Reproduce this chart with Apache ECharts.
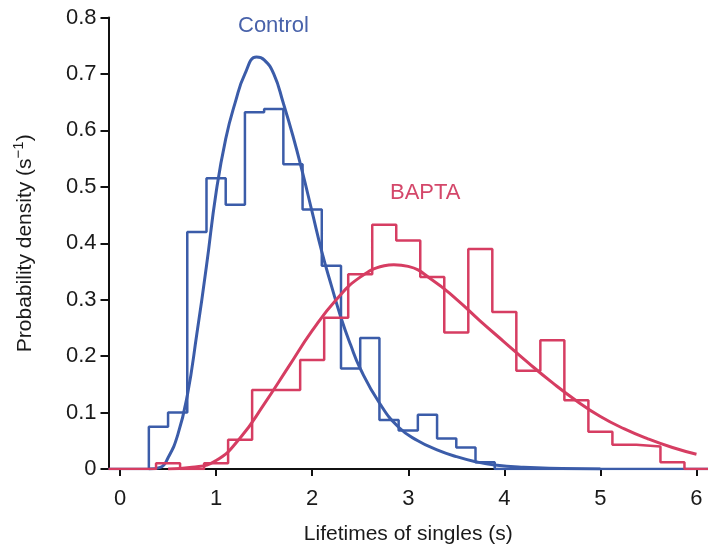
<!DOCTYPE html>
<html><head><meta charset="utf-8">
<script src="https://cdn.jsdelivr.net/npm/echarts@6/dist/echarts.min.js"></script>
<style>html,body{margin:0;padding:0;background:#fff}#c{width:708px;height:548px}</style>
</head><body><div id="c"></div>
<script>
// ---- data ----
const xTickValues = [0, 1, 2, 3, 4, 5, 6];

const controlEdges = [0.3, 0.5, 0.7, 0.9, 1.1, 1.3, 1.5, 1.7, 1.9, 2.1, 2.3, 2.5, 2.7, 2.9, 3.1, 3.3, 3.5, 3.7, 3.9];
const controlValues = [0.075, 0.10, 0.42, 0.515, 0.468, 0.632, 0.638, 0.54, 0.46, 0.36, 0.178, 0.232, 0.087, 0.068, 0.096, 0.054, 0.038, 0.012];

const baptaEdges = [0.375, 0.625, 0.875, 1.125, 1.375, 1.625, 1.875, 2.125, 2.375, 2.625, 2.875, 3.125, 3.375, 3.625, 3.875, 4.125, 4.375, 4.625, 4.875, 5.125, 5.375, 5.625, 5.875];
const baptaValues = [0.01, 0, 0.01, 0.052, 0.14, 0.14, 0.193, 0.268, 0.345, 0.433, 0.405, 0.34, 0.242, 0.39, 0.278, 0.174, 0.228, 0.122, 0.066, 0.043, 0.04, 0.012];

const controlFitX = [0.3, 0.42, 0.5, 0.6, 0.7, 0.8, 0.9, 1.0, 1.1, 1.2, 1.3, 1.42, 1.5, 1.6, 1.7, 1.8, 1.9, 2.0, 2.1, 2.2, 2.3, 2.4, 2.5, 2.7, 2.9, 3.1, 3.3, 3.5, 3.7, 3.9, 4.2, 4.6, 5.0];
const controlFitY = [0, 0.003, 0.02, 0.06, 0.13, 0.24, 0.36, 0.49, 0.585, 0.65, 0.70, 0.73, 0.725, 0.70, 0.648, 0.59, 0.525, 0.455, 0.385, 0.325, 0.268, 0.22, 0.178, 0.117, 0.074, 0.05, 0.034, 0.022, 0.013, 0.007, 0.003, 0.001, 0];

const baptaFitX = [0.5, 0.75, 1.0, 1.25, 1.5, 1.75, 2.0, 2.25, 2.5, 2.75, 2.85, 3.0, 3.25, 3.5, 3.75, 4.0, 4.25, 4.5, 4.75, 5.0, 5.25, 5.5, 5.75, 6.0];
const baptaFitY = [0, 0.003, 0.015, 0.055, 0.115, 0.18, 0.245, 0.30, 0.34, 0.36, 0.362, 0.359, 0.335, 0.301, 0.262, 0.225, 0.188, 0.153, 0.121, 0.093, 0.071, 0.053, 0.038, 0.026];

const xMin = -0.12, xMax = 6.12;
const BLUE = '#3b5ca9', RED = '#d63d62';
const FONT = '"Liberation Sans", Arial, Helvetica, sans-serif';

function stepData(edges, values) {
  const d = [[xMin, 0]];
  for (let i = 0; i < values.length; i++) d.push([edges[i], values[i]]);
  d.push([edges[edges.length - 1], 0]);
  d.push([xMax, 0]);
  return d;
}
function pairs(xs, ys) { return xs.map((x, i) => [x, ys[i]]); }

const chart = echarts.init(document.getElementById('c'), null, {renderer: 'canvas'});
chart.setOption({
  animation: false,
  backgroundColor: '#fff',
  grid: {left: 108.5, right: 0, top: 17.5, bottom: 79, containLabel: false, outerBoundsMode: 'none'},
  xAxis: {
    type: 'value', min: xMin, max: xMax,
    name: 'Lifetimes of singles (s)', nameLocation: 'middle', nameGap: 55,
    nameTextStyle: {fontFamily: FONT, fontSize: 21, color: '#1a1a1a'},
    axisLine: {show: true, onZero: false, lineStyle: {color: '#111', width: 2}},
    axisTick: {show: true, length: 7, lineStyle: {color: '#111', width: 2}, customValues: xTickValues},
    axisLabel: {fontFamily: FONT, fontSize: 22, color: '#1a1a1a', margin: 19, customValues: xTickValues},
    splitLine: {show: false}
  },
  yAxis: {
    type: 'value', min: 0, max: 0.8, interval: 0.1,
    name: 'Probability density (s{sup|−1})', nameLocation: 'middle', nameGap: 70, nameRotate: 90,
    nameTextStyle: {fontFamily: FONT, fontSize: 21, color: '#1a1a1a',
      rich: {sup: {fontFamily: FONT, fontSize: 15, color: '#1a1a1a', verticalAlign: 'top', padding: [0, 0, 12, 0]}}},
    axisLine: {show: true, onZero: false, lineStyle: {color: '#111', width: 2}},
    axisTick: {show: true, length: 8, lineStyle: {color: '#111', width: 2}},
    axisLabel: {fontFamily: FONT, fontSize: 22, color: '#1a1a1a', margin: 12},
    splitLine: {show: false}
  },
  graphic: [
    {type: 'text', left: 238, top: 15, style: {text: 'Control', fontFamily: FONT, fontSize: 22, fill: '#4862aa'}},
    {type: 'text', left: 390, top: 182, style: {text: 'BAPTA', fontFamily: FONT, fontSize: 22, fill: '#d4476a'}}
  ],
  series: [
    {type: 'line', name: 'Control hist', data: stepData(controlEdges, controlValues), step: 'end',
      symbol: 'none', lineStyle: {color: BLUE, width: 2.5}, z: 2},
    {type: 'line', name: 'Control fit', data: pairs(controlFitX, controlFitY), smooth: 0.5,
      symbol: 'none', lineStyle: {color: BLUE, width: 3}, z: 3},
    {type: 'line', name: 'BAPTA hist', data: stepData(baptaEdges, baptaValues), step: 'end',
      symbol: 'none', lineStyle: {color: RED, width: 2.5}, z: 4},
    {type: 'line', name: 'BAPTA fit', data: pairs(baptaFitX, baptaFitY), smooth: 0.5,
      symbol: 'none', lineStyle: {color: RED, width: 3}, z: 5}
  ]
});
</script></body></html>
